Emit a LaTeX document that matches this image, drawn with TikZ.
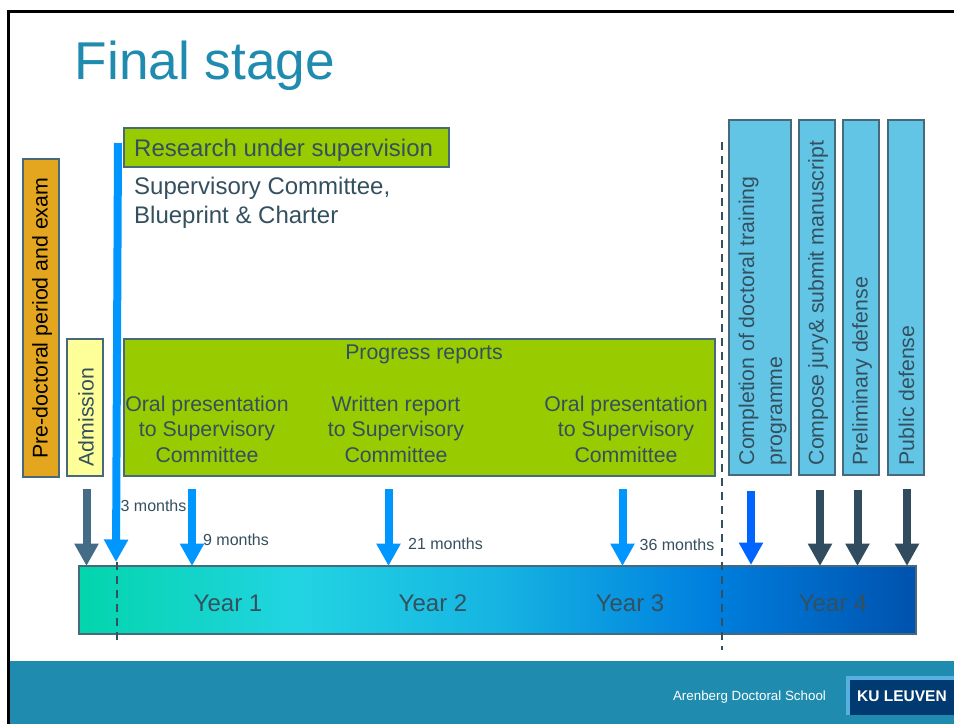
\documentclass[tikz,border=0pt]{standalone}
\usepackage{fontspec}
\setmainfont{Liberation Sans}
\usetikzlibrary{arrows.meta,calc}
\definecolor{slate}{HTML}{34505F}
\definecolor{edgeC}{HTML}{47697C}
\definecolor{teal}{HTML}{1F8BAF}
\definecolor{grass}{HTML}{99CC00}
\definecolor{sky}{HTML}{62C5E6}
\definecolor{amber}{HTML}{E3A61E}
\definecolor{lemon}{HTML}{FFFF99}
\definecolor{azure}{HTML}{0096FF}
\definecolor{royal}{HTML}{0064FF}
\definecolor{steel}{HTML}{456C86}
\definecolor{ink}{HTML}{304C5E}
\definecolor{navy}{HTML}{003A70}
\definecolor{lightb}{HTML}{58B0E0}
\definecolor{barA}{HTML}{03D5AC}
\definecolor{barB}{HTML}{22D4E2}
\definecolor{barC}{HTML}{16B4E2}
\definecolor{barD}{HTML}{0080DF}
\definecolor{barE}{HTML}{0052AE}
\pgfdeclarehorizontalshading{yearbar}{100bp}{
 color(0bp)=(barA); color(25bp)=(barA); color(38bp)=(barB); color(50bp)=(barC); color(62.5bp)=(barD); color(75bp)=(barE); color(100bp)=(barE)}
\newcommand{\fs}[2]{\fontsize{#1pt}{#2pt}\selectfont}
\tikzset{
 x=1pt,y=-1pt,
 box/.style={draw=edgeC,line width=1.2pt,inner sep=0pt,outer sep=0pt,text=slate},
 vtext/.style={rotate=90,font=\fs{21.3}{28},align=left,anchor=west,inner sep=0pt,text=slate},
 mid/.style={font=\fs{21.3}{25.5},text=slate,inner sep=0pt,align=center},
 arrowline/.style={line width=8pt,-{Triangle[length=22.5pt,width=23pt]},#1},
 arrowline/.default=azure,
 note/.style={font=\fs{16}{18},text=slate,inner sep=0pt},
 yearlabel/.style={font=\fs{24}{28},text=slate,inner sep=0pt},
 guide/.style={draw=slate,line width=2pt,dash pattern=on 8pt off 6pt},
}
\begin{document}
\begin{tikzpicture}
\useasboundingbox (0,0) rectangle (954,724);
\fill[white] (0,0) rectangle (954,724);
% frame and footer
\draw[black,line width=3pt] (954,11) -- (8.5,11) -- (8.5,724);
\fill[teal] (10,661) rectangle (954,724);
\node[font=\fs{53.2}{60},text=teal,inner sep=0pt,anchor=base west] (title) at (74.5,79) {Final stage};
% top boxes
\node[box,fill=grass,minimum width=325pt,minimum height=39pt,anchor=north west] (research) at (124,128) {};
\node[font=\fs{24}{29},text=slate,inner sep=0pt,anchor=base west] (researchtext) at (134,156) {Research under supervision};
\node[inner sep=0pt,anchor=north west,align=left,font=\fs{24}{29},text=slate] (charter) at (134,176.5)
 {Supervisory Committee,\\Blueprint \& Charter};
% left vertical boxes
\node[box,fill=amber,minimum width=36pt,minimum height=318pt] (pre) at (41,318) {};
\node[vtext,text=black,anchor=center] (pretext) at (42,318) {Pre-doctoral period and exam};
\node[box,fill=lemon,minimum width=36pt,minimum height=137pt] (adm) at (85,407.5) {};
\node[vtext] (admtext) at (86,466.5) {Admission};
% progress box
\node[box,fill=grass,minimum width=591pt,minimum height=137pt,anchor=north west] (progress) at (124,339) {};
\node[mid] (plabel) at (424,354) {Progress reports};
\node[mid] (p1) at (207,429) {Oral presentation\\to Supervisory\\Committee};
\node[mid] (p2) at (396,429) {Written report\\to Supervisory\\Committee};
\node[mid] (p3) at (626,429) {Oral presentation\\to Supervisory\\Committee};
% right vertical boxes
\node[box,fill=sky,minimum width=62pt,minimum height=355pt] (r1) at (760,297.5) {};
\node[box,fill=sky,minimum width=36pt,minimum height=355pt] (r2) at (817,297.5) {};
\node[box,fill=sky,minimum width=36pt,minimum height=355pt] (r3) at (861,297.5) {};
\node[box,fill=sky,minimum width=36pt,minimum height=355pt] (r4) at (906,297.5) {};
\node[vtext] (r1text) at (762.5,465.5) {Completion of doctoral training\\programme};
\node[vtext] (r2text) at (818,465.5) {Compose jury\& submit manuscript};
\node[vtext] (r3text) at (862,465.5) {Preliminary defense};
\node[vtext] (r4text) at (906.5,465.5) {Public defense};
% timeline bar
\node[box,shading=yearbar,minimum width=837pt,minimum height=68pt,anchor=north west] (bar) at (79,566) {};
\node[yearlabel] (y1) at (228,603) {Year 1};
\node[yearlabel] (y2) at (433,603) {Year 2};
\node[yearlabel] (y3) at (630,603) {Year 3};
\node[yearlabel] (y4) at (833,603) {Year 4};
% guides
\coordinate (g1a) at (116.5,562); \coordinate (g1b) at (116.5,641);
\coordinate (g2a) at (721.5,142); \coordinate (g2b) at (721.5,650);
\draw[guide] (g1a) -- (g1b);
\draw[guide] (g2a) -- (g2b);
% arrows
\coordinate (a0) at (86.5,489);
\coordinate (a1) at (118,143); \coordinate (a1e) at (116,562);
\coordinate (a2) at (192,489);
\coordinate (a3) at (388.5,489);
\coordinate (a4) at (622.5,489);
\coordinate (a5) at (751,491); \coordinate (a5e) at (751,565);
\coordinate (a6) at (820,490);
\coordinate (a7) at (857.5,490);
\coordinate (a8) at (907,489);
\draw[arrowline=steel] (a0) -- (a0 |- bar.north);
\draw[arrowline] (a1) -- (a1e);
\draw[arrowline] (a2) -- (a2 |- bar.north);
\draw[arrowline] (a3) -- (a3 |- bar.north);
\draw[arrowline] (a4) -- (a4 |- bar.north);
\draw[arrowline=royal] (a5) -- (a5e);
\draw[arrowline=ink] (a6) -- (a6 |- bar.north);
\draw[arrowline=ink] (a7) -- (a7 |- bar.north);
\draw[arrowline=ink] (a8) -- (a8 |- bar.north);
\node[note] (m3) at (153.5,506) {3 months};
\node[note] (m9) at (236,540) {9 months};
\node[note] (m21) at (445.5,544) {21 months};
\node[note] (m36) at (677,544.5) {36 months};
% footer text and logo
\node[font=\fs{13.35}{16},text=white,inner sep=0pt] (school) at (749.5,697) {Arenberg Doctoral School};
\node[fill=navy,draw=none,minimum width=108pt,minimum height=39pt,inner sep=0pt,outer sep=0pt,anchor=north west] (logo) at (846,676) {};
\draw[lightb,line width=3.5pt] ($(logo.south west)+(1.75,0)$) -- ($(logo.north west)+(1.75,1.75)$) -- ($(logo.north east)+(0,1.75)$);
\node[font=\bfseries\fs{15.5}{18},text=white,inner sep=0pt,anchor=base] (logotext) at (902,701.5) {KU LEUVEN};
\end{tikzpicture}
\end{document}
